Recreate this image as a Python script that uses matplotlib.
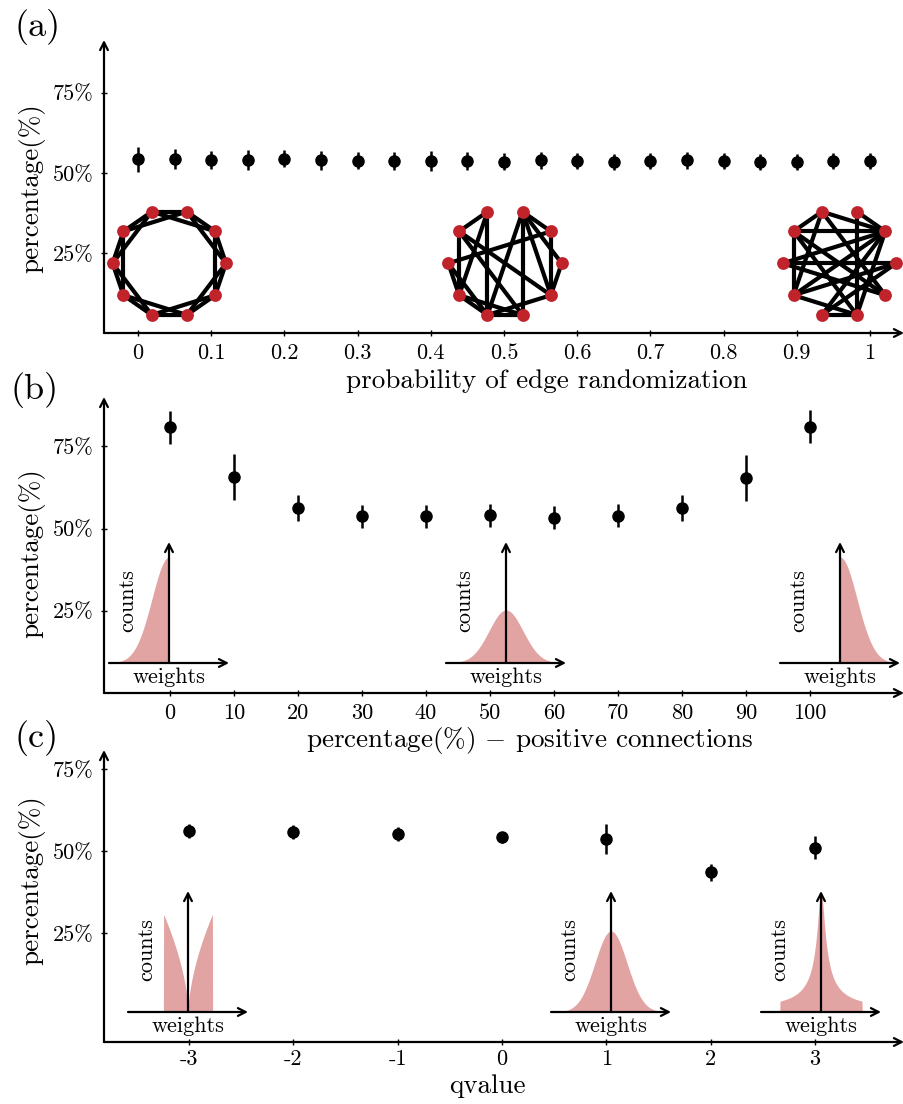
import numpy as np
import matplotlib.pyplot as plt

plt.rcParams['font.family'] = 'cmr10'
plt.rcParams['mathtext.fontset'] = 'cm'
plt.rcParams['axes.unicode_minus'] = False

W, H = 904, 1104

# ---------------- data ----------------
# (a) probability of edge randomization
p_rand = [0.0, 0.05, 0.1, 0.15, 0.2, 0.25, 0.3, 0.35, 0.4, 0.45, 0.5,
          0.55, 0.6, 0.65, 0.7, 0.75, 0.8, 0.85, 0.9, 0.95, 1.0]
pct_a = [54.2, 54.4, 54.0, 54.0, 54.4, 53.9, 53.8, 53.7, 53.7, 53.8, 53.5,
         53.9, 53.6, 53.4, 53.6, 53.9, 53.6, 53.5, 53.5, 53.7, 53.6]
err_a = [3.8, 3.2, 2.9, 3.2, 2.6, 3.0, 2.6, 2.8, 3.0, 2.8, 2.6,
         2.7, 2.5, 2.5, 2.5, 2.6, 2.5, 2.5, 2.5, 2.5, 2.5]
a_ticks = [0, 0.1, 0.2, 0.3, 0.4, 0.5, 0.6, 0.7, 0.8, 0.9, 1.0]
a_ticklabels = ['0', '0.1', '0.2', '0.3', '0.4', '0.5', '0.6', '0.7', '0.8', '0.9', '1']

# (b) percentage of positive connections
pos_conn = [0, 10, 20, 30, 40, 50, 60, 70, 80, 90, 100]
pct_b = [80.8, 65.8, 56.3, 53.7, 53.8, 54.0, 53.3, 53.9, 56.3, 65.5, 80.9]
err_b = [5.0, 7.0, 4.0, 3.5, 3.5, 3.5, 3.5, 3.5, 4.0, 7.0, 5.0]
b_ticks = [0, 10, 20, 30, 40, 50, 60, 70, 80, 90, 100]
b_ticklabels = ['0', '10', '20', '30', '40', '50', '60', '70', '80', '90', '100']

# (c) q value of the weight distribution
qvals = [-3, -2, -1, 0, 1, 2, 3]
pct_c = [56.1, 55.8, 55.2, 54.2, 53.7, 43.5, 51.0]
err_c = [2.0, 2.0, 2.0, 1.7, 4.5, 2.5, 3.5]
c_ticklabels = ['-3', '-2', '-1', '0', '1', '2', '3']

y_ticks = [25, 50, 75]
y_ticklabels = ['25%', '50%', '75%']

# small-world graphs drawn in panel (a), 10 nodes on a circle
edges_p0 = [(0, 1), (1, 2), (2, 3), (3, 4), (4, 5), (5, 6), (6, 7), (7, 8), (8, 9), (9, 0),
            (0, 2), (1, 3), (2, 4), (3, 5), (4, 6), (5, 7), (6, 8), (7, 9), (8, 0), (9, 1)]
edges_p05 = [(3, 4), (3, 7), (3, 6), (4, 6), (4, 9), (5, 6), (5, 1), (5, 7), (6, 7), (7, 8),
             (7, 2), (7, 9), (2, 1), (2, 0), (2, 9), (2, 8), (1, 9), (9, 0), (8, 4), (6, 8)]
edges_p1 = [(4, 1), (5, 0), (7, 8), (4, 6), (2, 8), (3, 4), (3, 1), (3, 9), (2, 1), (1, 5),
            (1, 6), (1, 7), (4, 9), (4, 8), (5, 9), (6, 0), (6, 8), (7, 0), (3, 6), (8, 1)]

NODE_RED = '#c1232b'
FILL_PINK = '#e2a3a3'
ARROW = dict(arrowstyle='->,head_length=0.55,head_width=0.28', lw=1.6, color='black',
             shrinkA=0, shrinkB=0)
TICK_FS = 16
LABEL_FS = 19.5
INSET_FS = 16


def box(left, top, right, bottom):
    return [left / W, 1 - bottom / H, (right - left) / W, (bottom - top) / H]


fig = plt.figure(figsize=(W / 100, H / 100), dpi=100)
fig.patch.set_facecolor('white')


def main_axes(rect, xlim, ylim, xticks, xlabels, xpad=5):
    ax = fig.add_axes(rect)
    ax.set_xlim(*xlim)
    ax.set_ylim(*ylim)
    for s in ax.spines.values():
        s.set_visible(False)
    ax.annotate('', xy=(1, 0), xytext=(0, 0), xycoords='axes fraction', arrowprops=ARROW)
    ax.annotate('', xy=(0, 1), xytext=(0, 0), xycoords='axes fraction', arrowprops=ARROW)
    ax.set_xticks(xticks)
    ax.set_xticklabels(xlabels, fontsize=TICK_FS)
    ax.set_yticks(y_ticks)
    ax.set_yticklabels(y_ticklabels, fontsize=TICK_FS)
    ax.tick_params(direction='inout', length=5, width=1.0, pad=5)
    ax.tick_params(axis='x', pad=xpad)
    ax.patch.set_alpha(0)
    return ax


def dist_inset(cx, axis_y, top_y, xs, hs):
    ax = fig.add_axes(box(cx - 61, top_y, cx + 61, axis_y))
    ax.set_xlim(-61, 61)
    ax.set_ylim(0, axis_y - top_y)
    ax.axis('off')
    ax.fill_between(xs, 0, hs, color=FILL_PINK, lw=0)
    ax.annotate('', xy=(60, 0), xytext=(-60, 0), xycoords='data', arrowprops=ARROW)
    ax.annotate('', xy=(0, axis_y - top_y), xytext=(0, 0), xycoords='data', arrowprops=ARROW)
    fig.text(cx / W, 1 - (axis_y + 14) / H, 'weights', ha='center', va='center',
             fontsize=INSET_FS)
    fig.text((cx - 42) / W, 1 - (axis_y - 62) / H, 'counts', ha='center', va='center',
             rotation=90, fontsize=INSET_FS)


def graph_inset(cx, cy, edges):
    ax = fig.add_axes(box(cx - 66, cy - 64, cx + 66, cy + 64))
    ax.set_xlim(-66, 66)
    ax.set_ylim(-64, 64)
    ax.axis('off')
    ang = np.deg2rad(np.arange(10) * 36.0)
    nx, ny = 56.7 * np.cos(ang), 54.3 * np.sin(ang)
    for i, j in edges:
        ax.plot([nx[i], nx[j]], [ny[i], ny[j]], color='black', lw=3.0, solid_capstyle='round')
    ax.scatter(nx, ny, s=85, color=NODE_RED, zorder=3, lw=0)


# ---------------- panel (a) ----------------
axa = main_axes(box(104, 40, 904, 333), (-0.0464, 1.0464), (0, 91.5), a_ticks, a_ticklabels)
graph_inset(169.3, 263.3, edges_p0)
graph_inset(505.0, 263.3, edges_p05)
graph_inset(839.4, 263.3, edges_p1)
axa.errorbar(p_rand, pct_a, yerr=err_a, fmt='o', color='black', ms=8, elinewidth=1.8,
             capsize=0, zorder=5)
fig.text(38 / W, 1 - 27 / H, '(a)', ha='center', va='center', fontsize=26)
fig.text(32 / W, 1 - 188 / H, 'percentage(%)', ha='center', va='center', rotation=90,
         fontsize=LABEL_FS)
fig.text(547 / W, 1 - 381 / H, 'probability of edge randomization', ha='center', va='center',
         fontsize=LABEL_FS)

# ---------------- panel (b) ----------------
axb = main_axes(box(104, 397, 904, 693), (-10.31, 114.69), (0, 90), b_ticks, b_ticklabels)
w = np.linspace(-60, 60, 601)
half_neg = np.where(w <= 0, 106 * np.exp(-w ** 2 / (2 * 17.0 ** 2)), 0)
half_pos = np.where(w >= 0, 106 * np.exp(-w ** 2 / (2 * 17.0 ** 2)), 0)
full = 53 * np.exp(-w ** 2 / (2 * 17.0 ** 2))
dist_inset(169, 663, 542, w, half_neg)
dist_inset(506, 663, 542, w, full)
dist_inset(840, 663, 542, w, half_pos)
axb.errorbar(pos_conn, pct_b, yerr=err_b, fmt='o', color='black', ms=8, elinewidth=1.8,
             capsize=0, zorder=5)
fig.text(35 / W, 1 - 390 / H, '(b)', ha='center', va='center', fontsize=26)
fig.text(32 / W, 1 - 553 / H, 'percentage(%)', ha='center', va='center', rotation=90,
         fontsize=LABEL_FS)
fig.text(530 / W, 1 - 741 / H, r'percentage(%) $-$ positive connections', ha='center',
         va='center', fontsize=LABEL_FS)

# ---------------- panel (c) ----------------
axc = main_axes(box(104, 750, 904, 1042), (-3.815, 3.853), (-8.2, 80.8), qvals, c_ticklabels,
                xpad=3)
u = np.abs(w)
q_neg = np.where(u <= 24.5, 98 * (u / 24.5) ** 0.6, 0)
q_one = 81 * np.exp(-w ** 2 / (2 * 16.0 ** 2))
q_three = np.where(u <= 41, 120 / np.sqrt(1 + 0.0726 * w ** 2), 0)
dist_inset(188, 1012, 891, w, q_neg)
dist_inset(611, 1012, 891, w, q_one)
dist_inset(821, 1012, 891, w, q_three)
axc.errorbar(qvals, pct_c, yerr=err_c, fmt='o', color='black', ms=8, elinewidth=1.8,
             capsize=0, zorder=5)
fig.text(37 / W, 1 - 738 / H, '(c)', ha='center', va='center', fontsize=26)
fig.text(32 / W, 1 - 880 / H, 'percentage(%)', ha='center', va='center', rotation=90,
         fontsize=LABEL_FS)
fig.text(487 / W, 1 - 1086 / H, 'qvalue', ha='center', va='center', fontsize=LABEL_FS)

fig.savefig('out.png', dpi=100, facecolor='white')
